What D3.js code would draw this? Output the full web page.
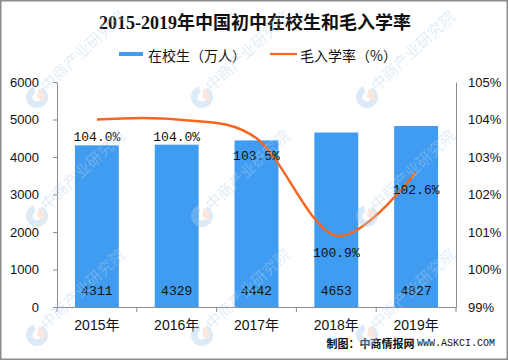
<!DOCTYPE html>
<html>
<head>
<meta charset="utf-8">
<script src="https://cdn.jsdelivr.net/npm/d3@7"></script>
<style>
  body { margin: 0; background: #fff; }
</style>
</head>
<body>
<div id="chart"></div>
<script>
'use strict';

// chart data
const years = ["2015年", "2016年", "2017年", "2018年", "2019年"];
const students = [4311, 4329, 4442, 4653, 4827];
const grossRate = [104.0, 104.0, 103.5, 100.9, 102.6];
const leftTicks = [0, 1000, 2000, 3000, 4000, 5000, 6000];
const rightTicks = [99, 100, 101, 102, 103, 104, 105];
const title = "2015-2019年中国初中在校生和毛入学率";
const seriesNames = ["在校生（万人）", "毛入学率（%）"];
const sourceLabel = "制图：中商情报网";
const sourceUrl = "WWW.ASKCI.COM";
const watermark = "中商产业研究院";

const width = 508, height = 360;
const margin = {top: 82, right: 52, bottom: 53, left: 57};
const barColor = "#3f9cf1", lineColor = "#f7661f", axisColor = "#8c8c8c";
const cjk = "'Noto Sans CJK SC', sans-serif";
const mono = "'Liberation Mono', 'DejaVu Sans Mono', monospace";
const sans = "'Liberation Sans', Arial, 'Noto Sans CJK SC', sans-serif";

const svg = d3.select("#chart").append("svg")
    .attr("width", width)
    .attr("height", height);

svg.append("rect")
    .attr("x", 0.75).attr("y", 0.75)
    .attr("width", width - 1.5).attr("height", height - 1.5)
    .attr("fill", "#fff")
    .attr("stroke", axisColor)
    .attr("stroke-width", 1.5);

// title
svg.append("text")
    .attr("x", 255).attr("y", 23)
    .attr("text-anchor", "middle")
    .attr("dominant-baseline", "central")
    .attr("font-family", "'Liberation Serif', 'Noto Sans CJK SC', serif")
    .attr("font-weight", "bold")
    .attr("font-size", 18)
    .attr("fill", "#111")
    .text(title);

// legend
const legend = svg.append("g")
    .attr("font-family", cjk)
    .attr("font-size", 14)
    .attr("fill", "#111");
legend.append("rect")
    .attr("x", 119).attr("y", 52)
    .attr("width", 24).attr("height", 4)
    .attr("fill", barColor);
legend.append("text")
    .attr("x", 148).attr("y", 55)
    .attr("dominant-baseline", "central")
    .text(seriesNames[0]);
legend.append("line")
    .attr("x1", 270).attr("x2", 297)
    .attr("y1", 54).attr("y2", 54)
    .attr("stroke", lineColor)
    .attr("stroke-width", 2.2);
legend.append("text")
    .attr("x", 300).attr("y", 55)
    .attr("dominant-baseline", "central")
    .text(seriesNames[1]);

// scales
const x = d3.scaleBand()
    .domain(years)
    .range([margin.left, width - margin.right])
    .paddingInner(0.45)
    .paddingOuter(0.225);

const y = d3.scaleLinear()
    .domain([0, 6000])
    .range([height - margin.bottom, margin.top]);

const yRight = d3.scaleLinear()
    .domain([99, 105])
    .range([height - margin.bottom, margin.top]);

const cx = d => x(d) + x.bandwidth() / 2;

// bars
const plot = svg.append("g");
plot.selectAll(".bar")
    .data(years)
    .enter().append("rect")
    .attr("class", "bar")
    .attr("x", d => x(d))
    .attr("y", (d, i) => y(students[i]))
    .attr("width", x.bandwidth())
    .attr("height", (d, i) => y(0) - y(students[i]))
    .attr("fill", barColor);

// value labels inside bars
plot.selectAll(".bar-label")
    .data(years)
    .enter().append("text")
    .attr("class", "bar-label")
    .attr("x", d => cx(d))
    .attr("y", y(0) - 16)
    .attr("text-anchor", "middle")
    .attr("dominant-baseline", "central")
    .attr("font-family", mono)
    .attr("font-size", 13)
    .attr("fill", "#111")
    .text((d, i) => students[i]);

// left axis
const leftAxis = svg.append("g")
    .attr("transform", `translate(${margin.left},0)`)
    .call(d3.axisLeft(y).tickValues(leftTicks).tickSize(4).tickSizeOuter(0).tickPadding(14)
        .tickFormat(d3.format("d")));

// right axis
const rightAxis = svg.append("g")
    .attr("transform", `translate(${width - margin.right},0)`)
    .call(d3.axisRight(yRight).tickValues(rightTicks).tickSize(0).tickPadding(12)
        .tickFormat(d => d + "%"));

// bottom axis
const bottomAxis = svg.append("g")
    .attr("transform", `translate(0,${height - margin.bottom})`)
    .call(d3.axisBottom(x).tickSize(0).tickSizeOuter(0).tickPadding(13));

// tick marks between categories
const gap = x.step() - x.bandwidth();
const bounds = years.map(d => x(d) - gap / 2).concat([x(years[years.length - 1]) + x.bandwidth() + gap / 2]);
bottomAxis.selectAll(".bound")
    .data(bounds)
    .enter().append("line")
    .attr("class", "bound")
    .attr("x1", d => d).attr("x2", d => d)
    .attr("y1", 0).attr("y2", 5)
    .attr("stroke", axisColor);

[leftAxis, rightAxis, bottomAxis].forEach(g => {
    g.select(".domain").attr("stroke", axisColor);
    g.selectAll(".tick line").attr("stroke", axisColor);
    g.selectAll(".tick text")
        .attr("font-family", sans)
        .attr("font-size", 13)
        .attr("fill", "#111");
});
bottomAxis.selectAll(".tick text").attr("font-size", 14);

// rate line
const line = d3.line()
    .x((d, i) => cx(years[i]))
    .y(d => yRight(d))
    .curve(d3.curveCardinal.tension(0));

plot.append("path")
    .datum(grossRate)
    .attr("d", line)
    .attr("fill", "none")
    .attr("stroke", lineColor)
    .attr("stroke-width", 2.5);

plot.selectAll(".rate-label")
    .data(grossRate)
    .enter().append("text")
    .attr("class", "rate-label")
    .attr("x", (d, i) => cx(years[i]))
    .attr("y", d => yRight(d) + 18)
    .attr("text-anchor", "middle")
    .attr("dominant-baseline", "central")
    .attr("font-family", mono)
    .attr("font-size", 13)
    .attr("fill", "#111")
    .text(d => d3.format(".1f")(d) + "%");

// source
const src = svg.append("text")
    .attr("x", 495).attr("y", 343)
    .attr("text-anchor", "end")
    .attr("dominant-baseline", "central")
    .attr("fill", "#111");
src.append("tspan")
    .attr("font-family", cjk)
    .attr("font-weight", "bold")
    .attr("font-size", 11)
    .text(sourceLabel + " ");
src.append("tspan")
    .attr("font-family", mono)
    .attr("font-size", 10)
    .text(sourceUrl);

// watermark grid (only the copies that sit fully inside the picture)
const wmX = [37, 202, 367], wmY = [97, 216, 335];
const wmPos = [];
wmX.forEach(a => wmY.forEach(b => wmPos.push([a, b])));

const wm = svg.append("g").attr("opacity", 0.4);
const mark = wm.selectAll(".wm")
    .data(wmPos)
    .enter().append("g")
    .attr("class", "wm")
    .attr("transform", d => `translate(${d[0]},${d[1]})`);

mark.append("path")
    .attr("d", d3.arc().innerRadius(4.5).outerRadius(11).startAngle(Math.PI * 0.15).endAngle(Math.PI * 1.9))
    .attr("fill", "#a8cbea");
mark.append("path")
    .attr("d", d3.arc().innerRadius(0).outerRadius(8).startAngle(Math.PI * 0.05).endAngle(Math.PI * 0.7))
    .attr("fill", "#f5c2ad");
mark.append("text")
    .attr("transform", "translate(10,-5) rotate(-43)")
    .attr("font-family", cjk)
    .attr("font-size", 15.5)
    .attr("fill", "#b3d1ec")
    .text(watermark);
</script>
</body>
</html>
